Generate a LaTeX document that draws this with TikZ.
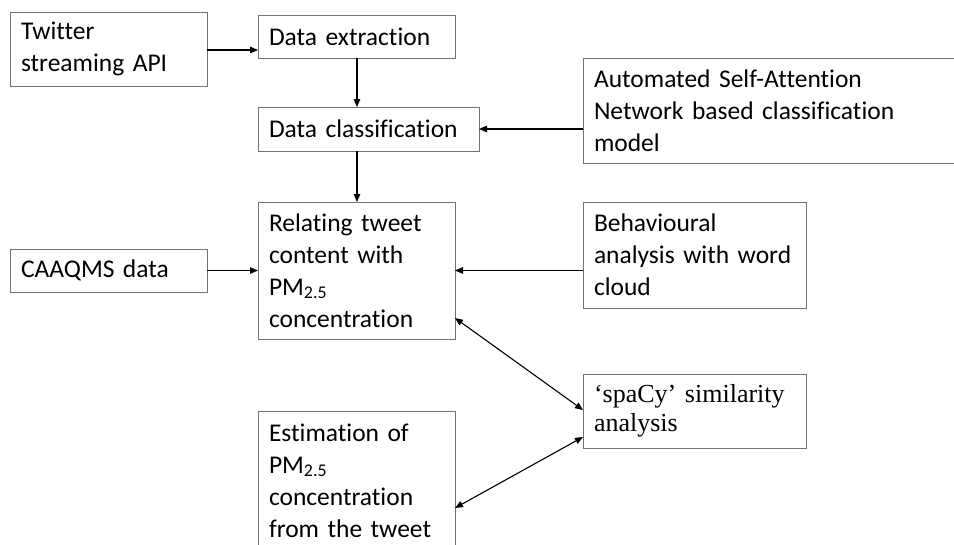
\documentclass[tikz,border=0pt]{standalone}
\usepackage{fontspec}
\setmainfont[Ligatures=NoCommon]{Carlito}
\newfontfamily\serifbox{Liberation Serif}
\usetikzlibrary{arrows.meta}
\tikzset{
  box/.style={draw=black!55, line width=0.9pt, anchor=north west, align=left,
    inner xsep=11pt, inner ysep=0pt, outer sep=0pt,
    font=\fontsize{25.5}{32}\selectfont},
  conn/.style={line width=1.1pt, -{Triangle[length=8pt,width=6.5pt]}},
  biconn/.style={line width=1.1pt, {Triangle[length=8pt,width=6.5pt]}-{Triangle[length=8pt,width=6.5pt]}}
}
\begin{document}
\begin{tikzpicture}[x=1pt,y=-1pt]
\useasboundingbox (0,0) rectangle (954,544);
\node[box, text width=175pt, minimum height=74pt] (tw) at (10,12) {Twitter\\streaming API};
\node[box, text width=175pt, minimum height=43pt] (ext) at (258,15) {Data extraction};
\node[box, text width=199pt, minimum height=44pt] (cls) at (258,107) {Data classification};
\node[box, text width=360pt, minimum height=105pt] (asan) at (583,58) {Automated Self-Attention\\Network based classification\\model};
\node[box, text width=175pt, minimum height=43pt] (caa) at (10,249) {CAAQMS data};
\node[box, text width=175pt, minimum height=137pt] (rel) at (258,202) {Relating tweet\\content with\\PM\textsubscript{2.5}\\concentration};
\node[box, text width=201pt, minimum height=106pt] (beh) at (583,202) {Behavioural\\analysis with word\\cloud};
\node[box, text width=201pt, minimum height=74pt, font=\serifbox\fontsize{26}{28.5}\selectfont] (spc) at (583,374) {‘spaCy’ similarity\\analysis};
\node[box, text width=175pt, minimum height=139pt] (est) at (258,411) {Estimation of\\PM\textsubscript{2.5}\\concentration\\from the tweet};
\draw[conn] ([yshift=-1pt]tw.east) -- ([yshift=-1pt]tw.east -| ext.west);
\draw[conn] ([xshift=0.5pt]ext.south) -- ([xshift=0.5pt]ext.south |- cls.north);
\draw[conn] ([xshift=0.5pt]ext.south |- cls.south) -- ([xshift=0.5pt]ext.south |- rel.north);
\draw[conn] (asan.west |- cls.east) -- (cls.east);
\draw[conn] (caa.east) -- (caa.east -| rel.west);
\draw[conn] (rel.east -| beh.west) -- (rel.east);
\draw[biconn] ([yshift=-47.5pt]rel.east) -- ([yshift=1pt]spc.west);
\draw[biconn] ([yshift=-27.5pt]est.east) -- ([yshift=-26pt]spc.west);
\end{tikzpicture}
\end{document}
